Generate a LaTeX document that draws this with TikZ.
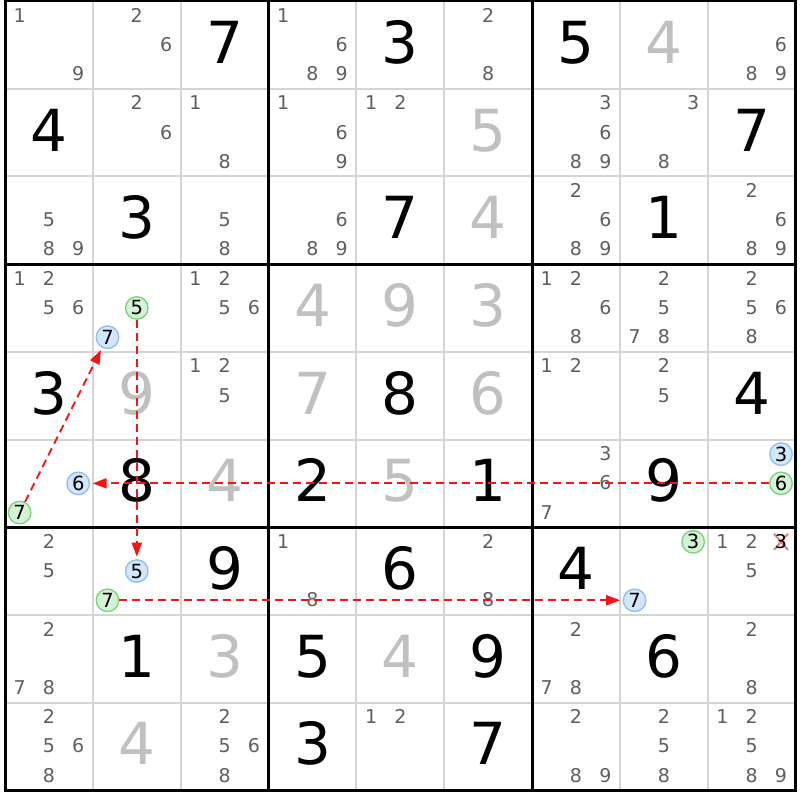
\documentclass[tikz,border=0pt]{standalone}
\usepackage{fontspec}
\setmainfont{DejaVu Sans}
\usetikzlibrary{arrows.meta,calc}
\definecolor{candgray}{RGB}{95,95,95}
\definecolor{solvedgray}{RGB}{192,192,192}
\definecolor{gridgray}{RGB}{212,212,212}
\definecolor{greenfill}{RGB}{214,242,214}
\definecolor{greenline}{RGB}{125,212,125}
\definecolor{bluefill}{RGB}{212,230,250}
\definecolor{blueline}{RGB}{145,192,240}
\definecolor{xred}{RGB}{240,120,120}
\definecolor{linkred}{RGB}{245,20,20}
\def\Lx{5}
\def\Ty{1}
\def\cellw{87.85}
\def\cellh{87.7}
\newcommand\bigdig[4]{\node[#4,anchor=base] (d#1#2) at ({\Lx+(#2-0.5)*\cellw},{\Ty+(#1-0.5)*\cellh+18.5}) {#3};}
\newcommand\cands[3]{\foreach \d in {#3}{%
  \pgfmathsetmacro\mysc{mod(\d-1,3)}%
  \pgfmathsetmacro\mysr{floor((\d-1)/3)}%
  \node[cand,anchor=base] (c#1#2\d) at ({\Lx+(#2-1)*\cellw+(\mysc+0.5)*\cellw/3},{\Ty+(#1-1)*\cellh+(\mysr+0.5)*\cellh/3+6.5}) {\d};}}
\newcommand\ccand[5]{%
  \pgfmathsetmacro\mysc{mod(#3-1,3)}%
  \pgfmathsetmacro\mysr{floor((#3-1)/3)}%
  \node[#4] (#5) at ({\Lx+(#2-1)*\cellw+(\mysc+0.5)*\cellw/3},{\Ty+(#1-1)*\cellh+(\mysr+0.5)*\cellh/3}) {#3};}
\begin{document}
\begin{tikzpicture}[x=1pt,y=-1pt,
  given/.style={font=\fontsize{58}{58}\selectfont, text=black, inner sep=0pt},
  solved/.style={given, text=solvedgray},
  cand/.style={font=\fontsize{19}{19}\selectfont, text=candgray, inner sep=0pt},
  circ/.style={circle, minimum size=22.5pt, inner sep=0pt, line width=1.4pt, font=\fontsize{19.5}{19.5}\selectfont, text=black},
  gcirc/.style={circ, fill=greenfill, draw=greenline},
  bcirc/.style={circ, fill=bluefill, draw=blueline},
  linkline/.style={draw=linkred, line width=1.9pt, dash pattern=on 8pt off 5pt},
  link/.style={linkline, -{Triangle[length=14pt,width=10pt]}, shorten >=2.5pt},
  thin/.style={gridgray, line width=2pt},
  thick/.style={black, line width=3pt}]
\fill[white] (0,0) rectangle (800,800);
\useasboundingbox (0,0) rectangle (800,800);
% grid
\foreach \i in {1,2,4,5,7,8}{
  \draw[thin] ({\Lx+\i*\cellw},{\Ty}) -- ({\Lx+\i*\cellw},{\Ty+9*\cellh});
  \draw[thin] ({\Lx},{\Ty+\i*\cellh}) -- ({\Lx+9*\cellw},{\Ty+\i*\cellh});
}
\foreach \i in {0,3,6,9}{
  \draw[thick] ({\Lx+\i*\cellw},{\Ty-1.5}) -- ({\Lx+\i*\cellw},{\Ty+9*\cellh+1.5});
  \draw[thick] ({\Lx-1.5},{\Ty+\i*\cellh}) -- ({\Lx+9*\cellw+1.5},{\Ty+\i*\cellh});
}
% row 1
\cands{1}{1}{1,9} \cands{1}{2}{2,6} \bigdig{1}{3}{7}{given} \cands{1}{4}{1,6,8,9} \bigdig{1}{5}{3}{given}
\cands{1}{6}{2,8} \bigdig{1}{7}{5}{given} \bigdig{1}{8}{4}{solved} \cands{1}{9}{6,8,9}
% row 2
\bigdig{2}{1}{4}{given} \cands{2}{2}{2,6} \cands{2}{3}{1,8} \cands{2}{4}{1,6,9} \cands{2}{5}{1,2}
\bigdig{2}{6}{5}{solved} \cands{2}{7}{3,6,8,9} \cands{2}{8}{3,8} \bigdig{2}{9}{7}{given}
% row 3
\cands{3}{1}{5,8,9} \bigdig{3}{2}{3}{given} \cands{3}{3}{5,8} \cands{3}{4}{6,8,9} \bigdig{3}{5}{7}{given}
\bigdig{3}{6}{4}{solved} \cands{3}{7}{2,6,8,9} \bigdig{3}{8}{1}{given} \cands{3}{9}{2,6,8,9}
% row 4
\cands{4}{1}{1,2,5,6} \ccand{4}{2}{5}{gcirc}{g425} \ccand{4}{2}{7}{bcirc}{b427} \cands{4}{3}{1,2,5,6}
\bigdig{4}{4}{4}{solved} \bigdig{4}{5}{9}{solved} \bigdig{4}{6}{3}{solved}
\cands{4}{7}{1,2,6,8} \cands{4}{8}{2,5,7,8} \cands{4}{9}{2,5,6,8}
% row 5
\bigdig{5}{1}{3}{given} \bigdig{5}{2}{9}{solved} \cands{5}{3}{1,2,5} \bigdig{5}{4}{7}{solved} \bigdig{5}{5}{8}{given}
\bigdig{5}{6}{6}{solved} \cands{5}{7}{1,2} \cands{5}{8}{2,5} \bigdig{5}{9}{4}{given}
% row 6
\ccand{6}{1}{6}{bcirc}{b616} \ccand{6}{1}{7}{gcirc}{g617} \bigdig{6}{2}{8}{given} \bigdig{6}{3}{4}{solved}
\bigdig{6}{4}{2}{given} \bigdig{6}{5}{5}{solved} \bigdig{6}{6}{1}{given} \cands{6}{7}{3,6,7} \bigdig{6}{8}{9}{given}
\ccand{6}{9}{3}{bcirc}{b693} \ccand{6}{9}{6}{gcirc}{g696}
% row 7
\cands{7}{1}{2,5} \ccand{7}{2}{5}{bcirc}{b725} \ccand{7}{2}{7}{gcirc}{g727} \bigdig{7}{3}{9}{given}
\cands{7}{4}{1,8} \bigdig{7}{5}{6}{given} \cands{7}{6}{2,8} \bigdig{7}{7}{4}{given}
\ccand{7}{8}{3}{gcirc}{g783} \ccand{7}{8}{7}{bcirc}{b787} \cands{7}{9}{1,2,5}
\coordinate (x79) at ({\Lx+8*\cellw+2.5*\cellw/3},{\Ty+6*\cellh+0.5*\cellh/3});
\draw[xred, line width=2pt] ($(x79)+(-7,-8)$) -- ($(x79)+(7,8)$);
\draw[xred, line width=2pt] ($(x79)+(7,-8)$) -- ($(x79)+(-7,8)$);
\node[cand, text=black] (c793) at (x79) {3};
% row 8
\cands{8}{1}{2,7,8} \bigdig{8}{2}{1}{given} \bigdig{8}{3}{3}{solved} \bigdig{8}{4}{5}{given} \bigdig{8}{5}{4}{solved}
\bigdig{8}{6}{9}{given} \cands{8}{7}{2,7,8} \bigdig{8}{8}{6}{given} \cands{8}{9}{2,8}
% row 9
\cands{9}{1}{2,5,6,8} \bigdig{9}{2}{4}{solved} \cands{9}{3}{2,5,6,8} \bigdig{9}{4}{3}{given} \cands{9}{5}{1,2}
\bigdig{9}{6}{7}{given} \cands{9}{7}{2,8,9} \cands{9}{8}{2,5,8} \cands{9}{9}{1,2,5,8,9}
% links
\draw[link] (g617) -- (b427);
\draw[link] (g425) -- (b725);
\draw[link] (g696) -- (b616);
\draw[link] (g727) -- (b787);
\end{tikzpicture}
\end{document}
